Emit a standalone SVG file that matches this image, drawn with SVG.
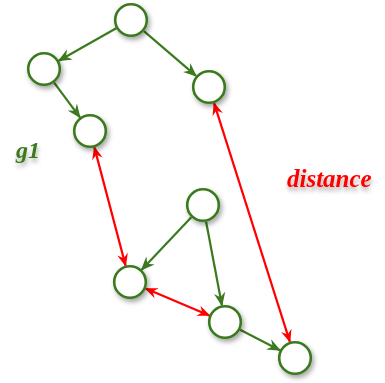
<svg xmlns="http://www.w3.org/2000/svg" width="385" height="383" viewBox="0 0 385 383">
<style>
.node{fill:#ffffff;stroke:#3b7a1f;stroke-width:2.6;filter:url(#sh)}
.g{stroke:#3b7a1f;stroke-width:2.2;fill:none}
.r{stroke:#ff0000;stroke-width:2.2;fill:none}
.lbl{font-family:"Liberation Serif","DejaVu Serif",serif;font-weight:bold;font-style:italic;filter:url(#tsh)}
</style>
<defs>
<filter id="sh" x="-50%" y="-50%" width="200%" height="200%"><feDropShadow dx="2" dy="3" stdDeviation="2.5" flood-color="#000" flood-opacity="0.35"/></filter>
<filter id="tsh" x="-20%" y="-40%" width="140%" height="200%"><feDropShadow dx="1" dy="4" stdDeviation="2" flood-color="#000" flood-opacity="0.3"/></filter>
<marker id="ag" viewBox="0 0 12 10" refX="11" refY="5" markerWidth="14" markerHeight="12" markerUnits="userSpaceOnUse" orient="auto"><path d="M0,0 L12,5 L0,10 L4,5 z" fill="#3b7a1f"/></marker>
<marker id="ar" viewBox="0 0 12 10" refX="11" refY="5" markerWidth="13" markerHeight="11" markerUnits="userSpaceOnUse" orient="auto-start-reverse"><path d="M0,0 L12,5 L0,10 L4,5 z" fill="#ff0000"/></marker>
</defs>
<g id="connectors">
<line class="g" x1="116.2" y1="28.3" x2="58.8" y2="60.7" marker-end="url(#ag)"/>
<line class="g" x1="143.9" y1="31.1" x2="196.1" y2="75.9" marker-end="url(#ag)"/>
<line class="g" x1="54.1" y1="82.7" x2="79.9" y2="117.3" marker-end="url(#ag)"/>
<line class="g" x1="191.3" y1="217.3" x2="141.7" y2="269.7" marker-end="url(#ag)"/>
<line class="g" x1="206.1" y1="221.7" x2="221.9" y2="305.3" marker-end="url(#ag)"/>
<line class="g" x1="240.1" y1="329.8" x2="279.9" y2="350.2" marker-end="url(#ag)"/>
<line class="r" x1="94.4" y1="147.4" x2="125.6" y2="265.6" marker-start="url(#ar)" marker-end="url(#ar)"/>
<line class="r" x1="145.7" y1="288.6" x2="209.3" y2="315.4" marker-start="url(#ar)" marker-end="url(#ar)"/>
<line class="r" x1="214.1" y1="103.2" x2="289.9" y2="341.8" marker-start="url(#ar)" marker-end="url(#ar)"/>
</g>
<g id="nA"><circle class="node" cx="131" cy="20" r="15.8"/></g>
<g id="nB"><circle class="node" cx="44" cy="69" r="15.8"/></g>
<g id="nC"><circle class="node" cx="209" cy="87" r="15.8"/></g>
<g id="nD"><circle class="node" cx="90" cy="131" r="15.8"/></g>
<g id="nE"><circle class="node" cx="203" cy="205" r="15.8"/></g>
<g id="nF"><circle class="node" cx="130" cy="282" r="15.8"/></g>
<g id="nG"><circle class="node" cx="225" cy="322" r="15.8"/></g>
<g id="nH"><circle class="node" cx="295" cy="358" r="15.8"/></g>
<g id="labels">
<text class="lbl" x="16" y="158" font-size="24" fill="#3b7a1f">g1</text>
<text class="lbl" x="287" y="187" font-size="25" fill="#ff0000">distance</text>
</g>
</svg>
